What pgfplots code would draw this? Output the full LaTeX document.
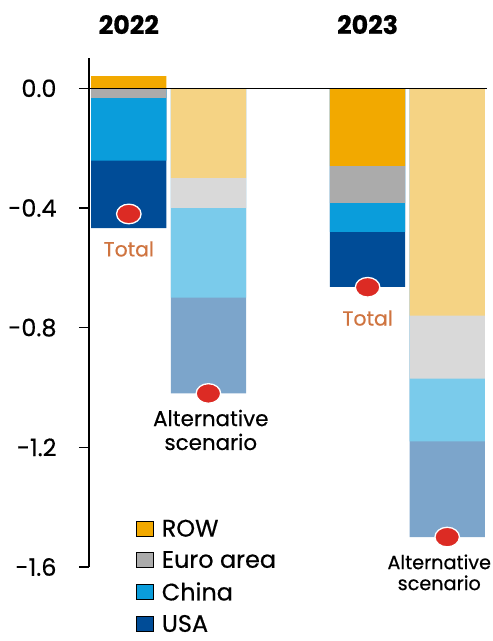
\documentclass[border=0pt]{standalone}
\usepackage{fontspec}
\setmainfont{Poppins}[FakeBold=0.5]
\usepackage{pgfplots}
\pgfplotsset{compat=1.18}

\definecolor{rowD}{HTML}{F2A900}
\definecolor{eurD}{HTML}{ABABAB}
\definecolor{chnD}{HTML}{0A9DDB}
\definecolor{usaD}{HTML}{004C97}
\definecolor{rowL}{HTML}{F5D384}
\definecolor{eurL}{HTML}{D9D9D9}
\definecolor{chnL}{HTML}{7ACBEB}
\definecolor{usaL}{HTML}{7CA5CB}
\definecolor{dotred}{HTML}{DC2B24}
\definecolor{totc}{HTML}{CF7440}

\pgfplotsset{sqleg/.style={legend image code/.code={\path[fill=#1] (0bp,-7.5bp) rectangle (17bp,7.5bp);}}}

\begin{document}
\begin{tikzpicture}
\useasboundingbox (-89bp,-74bp) rectangle (404bp,567bp);
\begin{axis}[
    scale only axis,
    width=398bp, height=508.6bp,
    xmin=-0.5, xmax=4.5,
    ymin=-1.6, ymax=0.1,
    clip=false,
    axis x line=none,
    axis y line*=left,
    axis line style={black, line width=1.2bp},
    ytick={-1.6,-1.2,-0.8,-0.4,0},
    tick align=outside,
    major tick length=10bp,
    tick style={black, line width=1.2bp},
    yticklabel style={/pgf/number format/fixed, /pgf/number format/fixed zerofill,
        /pgf/number format/precision=1, font=\fontsize{24}{26}\selectfont, xshift=-19bp},
    /pgf/number format/assume math mode=true,
    seg/.style={ybar, bar width=0.945, bar shift=0pt, draw=none, fill=#1, forget plot},
    legend style={draw=none, fill=none, at={(axis cs:0.093,-1.438)}, anchor=north west,
        font=\fontsize{24}{27}\selectfont, row sep=11bp, inner sep=0pt,
        nodes={inner sep=1bp},
        /tikz/every odd column/.append style={column sep=7bp}},
    legend cell align=left,
]
% legend
\addlegendimage{sqleg=rowD}
\addlegendentry{ROW}
\addlegendimage{sqleg=eurD}
\addlegendentry{Euro area}
\addlegendimage{sqleg=chnD}
\addlegendentry{China}
\addlegendimage{sqleg=usaD}
\addlegendentry{USA}

% totals (cumulative segment ends, drawn from deepest up)
\addplot[seg=usaD] coordinates {(0,-0.467) (3,-0.664)};
\addplot[seg=chnD] coordinates {(0,-0.242) (3,-0.480)};
\addplot[seg=eurD] coordinates {(0,-0.032) (3,-0.383)};
\addplot[seg=rowD] coordinates {(0,0.041) (3,-0.259)};
% alternative scenario
\addplot[seg=usaL] coordinates {(1,-1.020) (4,-1.500)};
\addplot[seg=chnL] coordinates {(1,-0.700) (4,-1.180)};
\addplot[seg=eurL] coordinates {(1,-0.400) (4,-0.970)};
\addplot[seg=rowL] coordinates {(1,-0.299) (4,-0.760)};

\draw[black, line width=1.2bp] (axis cs:-0.5,0) -- (axis cs:4.5,0);

% totals markers
\addplot[only marks, mark=*, mark size=9.8bp, forget plot,
    mark options={fill=dotred, draw=white, line width=1.3bp, xscale=1.25}]
    coordinates {(0,-0.42) (1,-1.02) (3,-0.665) (4,-1.50)};

\node[font=\fontsize{25.5}{28}\selectfont\bfseries] at (axis cs:0,0.213) {2022};
\node[font=\fontsize{25.5}{28}\selectfont\bfseries] at (axis cs:3,0.213) {2023};
\node[font=\fontsize{20.5}{23}\selectfont, text=totc] at (axis cs:0,-0.537) {Total};
\node[font=\fontsize{20.5}{23}\selectfont, text=totc] at (axis cs:3,-0.768) {Total};
\node[font=\fontsize{21.5}{24}\selectfont, align=center, inner sep=0pt] at (axis cs:1.03,-1.142) {Alternative\\scenario};
\node[font=\fontsize{19.3}{21}\selectfont, align=center, inner sep=0pt] at (axis cs:3.9,-1.618) {Alternative\\scenario};
\end{axis}
\end{tikzpicture}
\end{document}
